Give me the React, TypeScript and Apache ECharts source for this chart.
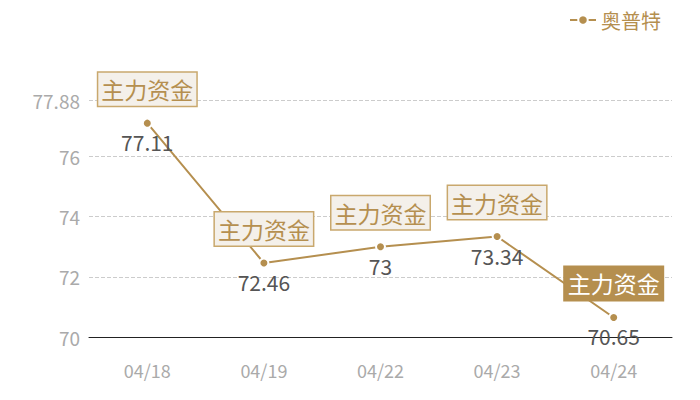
import React, { useEffect, useRef } from 'react';
import * as echarts from 'echarts';

const dates = ['04/18', '04/19', '04/22', '04/23', '04/24'];
const values = [77.11, 72.46, 73, 73.34, 70.65];
const tagText = '主力资金';
const seriesName = '奥普特';
const yMin = 70;
const yMax = 77.88;

const gold = '#b58f4f';
const font = '"Noto Sans CJK SC", "Noto Sans", sans-serif';

export default function App() {
    const chartRef = useRef<HTMLDivElement>(null);

    useEffect(() => {
        document.body.style.margin = '0';
        if (!chartRef.current) return;
        const chart = echarts.init(chartRef.current, undefined, { renderer: 'svg' });

        const lastIdx = values.length - 1;

        const option = {
            animation: false,
            textStyle: { fontFamily: font },
            legend: {
                data: [seriesName],
                right: 34,
                top: 5,
                itemWidth: 26,
                itemHeight: 12,
                itemGap: 4,
                textStyle: { color: gold, fontSize: 20, fontFamily: font }
            },
            grid: { left: 89, right: 28, top: 100, bottom: 63 },
            xAxis: {
                type: 'category',
                data: dates,
                axisLine: { lineStyle: { color: '#222', width: 1 } },
                axisTick: { show: false },
                axisLabel: { color: '#aaaaaa', fontSize: 18, margin: 24, fontFamily: font }
            },
            yAxis: {
                type: 'value',
                min: yMin,
                max: yMax,
                interval: 2,
                axisLine: { show: false },
                axisTick: { show: false },
                axisLabel: { color: '#aaaaaa', fontSize: 19, margin: 9, fontFamily: font },
                splitLine: { lineStyle: { color: '#cccccc', type: 'dashed' } }
            },
            series: [
                {
                    name: seriesName,
                    type: 'line',
                    data: values,
                    symbol: 'circle',
                    symbolSize: 9,
                    itemStyle: { color: gold, borderColor: '#fff', borderWidth: 2 },
                    lineStyle: { color: gold, width: 2 },
                    label: {
                        show: true,
                        position: 'bottom',
                        distance: 3,
                        color: '#555',
                        fontSize: 21,
                        fontFamily: font
                    },
                    z: 2
                },
                {
                    name: 'tag',
                    type: 'line',
                    data: values.map((v, i) =>
                        i === lastIdx
                            ? {
                                  value: v,
                                  label: {
                                      backgroundColor: gold,
                                      borderColor: gold,
                                      color: '#fff'
                                  }
                              }
                            : v
                    ),
                    symbol: 'circle',
                    symbolSize: 1,
                    itemStyle: { color: 'transparent' },
                    lineStyle: { color: 'transparent', width: 0 },
                    silent: true,
                    label: {
                        show: true,
                        position: 'top',
                        distance: 17,
                        formatter: () => tagText,
                        color: gold,
                        fontSize: 23,
                        lineHeight: 25,
                        fontFamily: font,
                        backgroundColor: '#f4f0ea',
                        borderColor: '#c9a86d',
                        borderWidth: 1.5,
                        padding: [4, 3, 4, 3]
                    },
                    z: 5
                }
            ]
        };

        chart.setOption(option);
        return () => chart.dispose();
    }, []);

    return <div ref={chartRef} style={{ width: 700, height: 400 }} />;
}
